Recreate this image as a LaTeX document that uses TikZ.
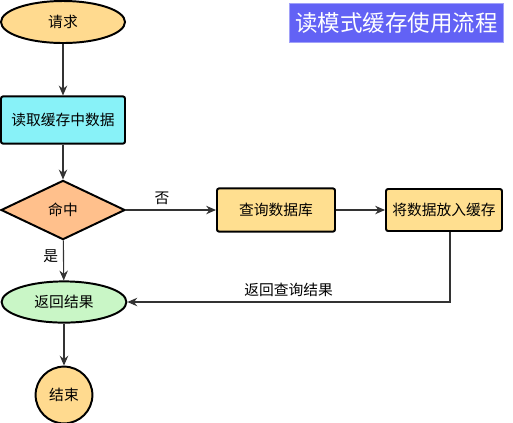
\documentclass[tikz,border=0pt]{standalone}
\usepackage{fontspec}
\newfontfamily\cjk{Noto Sans CJK SC}
\usetikzlibrary{arrows.meta, positioning, shapes.geometric}
\usepackage{xcolor}
\definecolor{startfill}{HTML}{FFDA8F}
\definecolor{readfill}{HTML}{88F2F8}
\definecolor{hitfill}{HTML}{FFC08C}
\definecolor{boxfill}{HTML}{FFDF90}
\definecolor{retfill}{HTML}{C9F6C6}
\definecolor{titlefill}{HTML}{6262F5}

\begin{document}
\begin{tikzpicture}[
    font=\cjk\fontsize{10.5pt}{12pt}\selectfont,
    flow edge/.style={draw=black!80, line width=0.8pt, -{Stealth[length=7pt, width=6pt]}},
    term node/.style={ellipse, draw, line width=1.4pt, inner sep=0pt},
    box node/.style={rectangle, draw, line width=1.4pt, rounded corners=1.5pt, inner sep=0pt}
]
    \useasboundingbox (0,0) rectangle (12.825,-10.55);

    % Nodes
    \node[term node, fill=startfill, minimum width=3.1cm, minimum height=1.05cm] (req) at (1.575,-0.55) {请求};
    \node[box node, fill=readfill, minimum width=3.1cm, minimum height=1.18cm] (read) at (1.575,-3.0) {读取缓存中数据};
    \node[diamond, draw, line width=1.4pt, fill=hitfill, aspect=2.1, minimum width=3.1cm, minimum height=1.48cm, inner sep=0pt] (hit) at (1.575,-5.25) {命中};
    \node[box node, fill=boxfill, minimum width=2.95cm, minimum height=1.08cm] (db) at (6.9,-5.25) {查询数据库};
    \node[box node, fill=boxfill, minimum width=2.9cm, minimum height=1.05cm] (put) at (11.1,-5.25) {将数据放入缓存};
    \node[term node, fill=retfill, minimum width=3.12cm, minimum height=1.03cm] (ret) at (1.6,-7.55) {返回结果};
    \node[circle, draw, line width=1.4pt, fill=startfill, minimum size=1.42cm, inner sep=0pt] (end) at (1.6,-9.875) {结束};
    \node[rectangle, fill=titlefill, draw=titlefill!60, text=white, minimum width=5.35cm, minimum height=0.98cm, inner sep=0pt, font=\cjk\fontsize{16pt}{19pt}\selectfont] (title) at (9.91,-0.575) {读模式缓存使用流程};

    % Edges
    \draw[flow edge] (req) -- (read);
    \draw[flow edge] (read) -- (hit);
    \draw[flow edge] (hit) -- node[above, pos=0.4] {否} (db);
    \draw[flow edge] (db) -- (put);
    \draw[flow edge] ([xshift=0.15cm]put.south) |- node[above, pos=0.75] {返回查询结果} (ret.east);
    \draw[flow edge] (hit) -- node[left, pos=0.4] {是} (ret);
    \draw[flow edge] (ret) -- (end);
\end{tikzpicture}
\end{document}
